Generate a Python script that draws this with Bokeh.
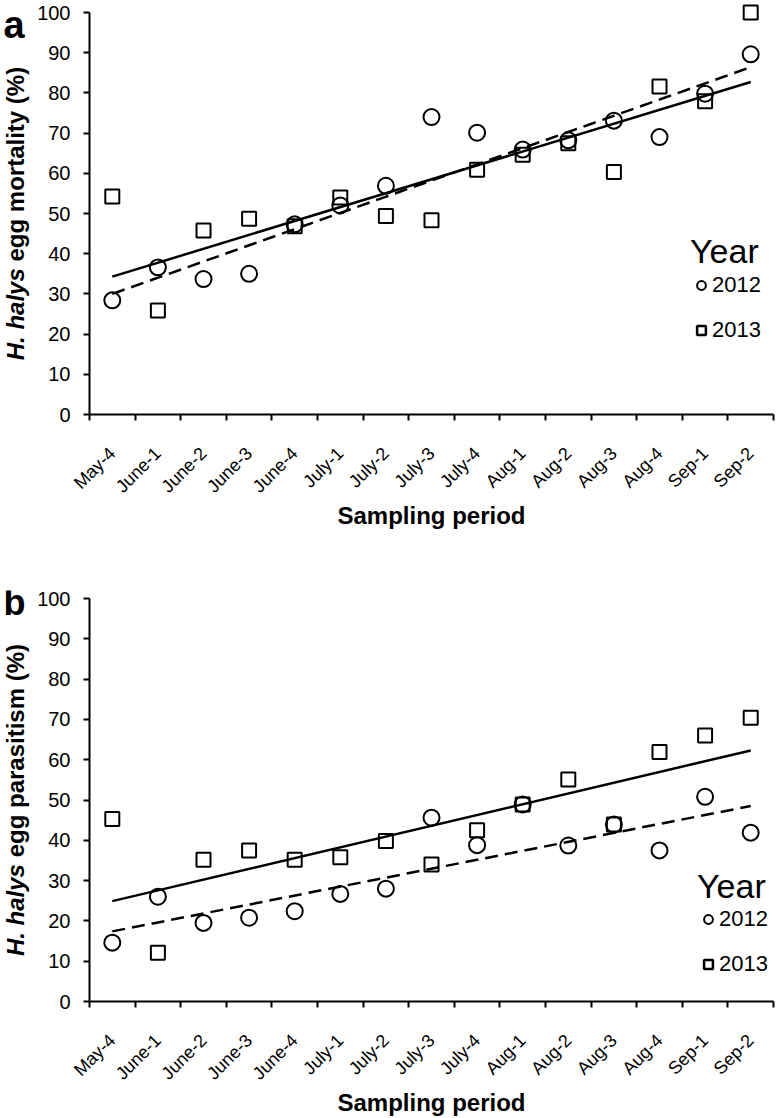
import math
from bokeh.plotting import figure
from bokeh.models import Range1d, FixedTicker, Label, Legend, LegendItem
from bokeh.layouts import column, row
from bokeh.embed import file_html
from bokeh.resources import INLINE

# ---------------- data ----------------
periods = ["May-4", "June-1", "June-2", "June-3", "June-4", "July-1", "July-2",
           "July-3", "July-4", "Aug-1", "Aug-2", "Aug-3", "Aug-4", "Sep-1", "Sep-2"]
y_ticks = [0, 10, 20, 30, 40, 50, 60, 70, 80, 90, 100]
years = ["2012", "2013"]

mortality_2012 = [28.4, 36.6, 33.7, 35.0, 47.3, 52.0, 56.9, 74.0, 70.1, 65.9, 68.2, 73.1, 69.0, 79.8, 89.6]
mortality_2013 = [54.2, 25.9, 45.8, 48.7, 46.8, 54.0, 49.4, 48.3, 60.9, 64.6, 67.5, 60.3, 81.6, 77.9, 100.0]
parasitism_2012 = [14.6, 26.0, 19.5, 20.8, 22.4, 26.7, 28.0, 45.6, 38.8, 48.9, 38.7, 43.9, 37.5, 50.8, 41.9]
parasitism_2013 = [45.3, 12.1, 35.2, 37.5, 35.2, 35.8, 39.8, 34.0, 42.5, 48.9, 55.1, 43.9, 61.9, 66.0, 70.4]

# fitted trend values at first and last sampling period
trend_mortality_2012 = [30.0, 86.4]
trend_mortality_2013 = [34.3, 82.7]
trend_parasitism_2012 = [17.4, 48.5]
trend_parasitism_2013 = [24.9, 62.3]

FONT = "Liberation Sans"
LAB_W = 34          # width of the strip holding panel letter + y title
MAIN_W = 777 - LAB_W
Y_MAX = 100


def label_strip(height, btop, bbottom, y_top, px, letter, letter_size,
                letter_y, ylab_rest, total_px):
    """Left strip; its frame aligns with the neighbouring plot frame."""
    s = figure(width=LAB_W, height=height, x_range=Range1d(0, LAB_W),
               y_range=Range1d(0, y_top), output_backend="svg",
               toolbar_location=None, x_axis_type=None, y_axis_type=None,
               min_border_left=0, min_border_right=0,
               min_border_top=btop, min_border_bottom=bbottom)
    s.grid.visible = False
    s.outline_line_color = None
    s.background_fill_color = "white"
    s.border_fill_color = "white"
    s.add_layout(Label(x=3, y=letter_y, text=letter, text_font=FONT,
                       text_font_size=letter_size, text_font_style="bold",
                       text_align="left", text_baseline="alphabetic",
                       text_color="black"))
    # y title: italic genus name + bold remainder, centred on y = 50
    split_px = -total_px / 2 + 92.0
    s.add_layout(Label(x=15, y=Y_MAX / 2 + split_px * px, angle=math.pi / 2,
                       text="H. halys", text_font=FONT, text_font_size="24px",
                       text_font_style="bold italic", text_align="right",
                       text_baseline="middle", text_color="black"))
    s.add_layout(Label(x=15, y=Y_MAX / 2 + (split_px + 6.7) * px,
                       angle=math.pi / 2, text=ylab_rest, text_font=FONT,
                       text_font_size="24px", text_font_style="bold",
                       text_align="left", text_baseline="middle",
                       text_color="black"))
    return s


def panel(v12, v13, t12, t13, height, btop, bbottom, y_top, leg_loc,
          title_standoff):
    n = len(periods)
    xs = list(range(n))
    p = figure(width=MAIN_W, height=height,
               x_range=Range1d(-0.5, n - 0.5), y_range=Range1d(0, y_top),
               output_backend="svg", toolbar_location=None,
               min_border_left=89 - LAB_W, min_border_right=4,
               min_border_top=btop, min_border_bottom=bbottom)
    p.grid.visible = False
    p.outline_line_color = None
    p.background_fill_color = "white"
    p.border_fill_color = "white"

    xa = p.xaxis[0]
    xa.ticker = FixedTicker(ticks=xs, minor_ticks=[i - 0.5 for i in range(n + 1)])
    xa.major_label_overrides = {i: periods[i] for i in xs}
    xa.major_label_orientation = math.pi / 4
    xa.major_tick_in = 0
    xa.major_tick_out = 0
    xa.minor_tick_in = 0
    xa.minor_tick_out = 6
    xa.minor_tick_line_width = 2
    xa.minor_tick_line_color = "black"
    xa.axis_line_width = 2
    xa.axis_line_color = "black"
    xa.major_label_text_font = FONT
    xa.major_label_text_font_size = "18px"
    xa.major_label_text_color = "black"
    xa.major_label_standoff = 30
    xa.axis_label = "Sampling period"
    xa.axis_label_text_font = FONT
    xa.axis_label_text_font_size = "24px"
    xa.axis_label_text_font_style = "bold"
    xa.axis_label_text_color = "black"
    xa.axis_label_standoff = -5

    ya = p.yaxis[0]
    ya.ticker = FixedTicker(ticks=y_ticks)
    ya.bounds = (0, Y_MAX)
    ya.major_tick_in = 0
    ya.major_tick_out = 6
    ya.major_tick_line_width = 2
    ya.major_tick_line_color = "black"
    ya.minor_tick_in = 0
    ya.minor_tick_out = 0
    ya.axis_line_width = 2
    ya.axis_line_color = "black"
    ya.major_label_text_font = FONT
    ya.major_label_text_font_size = "20px"
    ya.major_label_text_color = "black"
    ya.major_label_standoff = 13

    # data points
    p.scatter(xs, v12, marker="circle", size=16, line_color="black",
              line_width=2, fill_color=None)
    p.scatter(xs, v13, marker="square", size=14, line_color="black",
              line_width=2, fill_color=None)
    # trend lines
    ends = [xs[0], xs[-1]]
    p.line(ends, t12, line_color="black", line_width=2.5, line_dash="13 7")
    p.line(ends, t13, line_color="black", line_width=2.5)

    # legend (key markers only, no visible data)
    g12 = p.scatter([math.nan], [math.nan], marker="circle", size=9,
                    line_color="black", line_width=2, fill_color=None)
    g13 = p.scatter([math.nan], [math.nan], marker="square", size=9,
                    line_color="black", line_width=2.5, fill_color=None)
    leg = Legend(items=[LegendItem(label=years[0], renderers=[g12]),
                        LegendItem(label=years[1], renderers=[g13])],
                 title="Year", location=leg_loc,
                 border_line_color=None, background_fill_alpha=0,
                 padding=0, margin=0, spacing=19,
                 title_text_font=FONT, title_text_font_size="34px",
                 title_text_font_style="normal", title_text_color="black",
                 title_standoff=title_standoff,
                 label_text_font=FONT, label_text_font_size="22px",
                 label_text_color="black",
                 glyph_width=22, glyph_height=24, label_height=24,
                 label_standoff=0)
    p.add_layout(leg)
    return p


# ---- top panel geometry: frame 3..414 px, value 100 at 12 px ----
TOP_H, TOP_BT, TOP_BB = 560, 3, 146
top_frame = TOP_H - TOP_BT - TOP_BB
top_px = Y_MAX / (top_frame - 9)            # data units per pixel
top_ytop = top_frame * top_px

# ---- bottom panel geometry: frame 590..1001 px, value 100 at 598 px ----
BOT_H, BOT_BT, BOT_BB = 1118 - TOP_H, 30, 117
bot_frame = BOT_H - BOT_BT - BOT_BB
bot_px = Y_MAX / (bot_frame - 8)
bot_ytop = bot_frame * bot_px

sa = label_strip(TOP_H, TOP_BT, TOP_BB, top_ytop, top_px, "a", "38px",
                 Y_MAX - 12 * top_px, "egg mortality (%)", 293.4)
pa = panel(mortality_2012, mortality_2013, trend_mortality_2012,
           trend_mortality_2013, TOP_H, TOP_BT, TOP_BB, top_ytop,
           leg_loc=(601, 71), title_standoff=1)

sb = label_strip(BOT_H, BOT_BT, BOT_BB, bot_ytop, bot_px, "b", "36px",
                 Y_MAX - 4 * bot_px, "egg parasitism (%)", 312.1)
pb = panel(parasitism_2012, parasitism_2013, trend_parasitism_2012,
           trend_parasitism_2013, BOT_H, BOT_BT, BOT_BB, bot_ytop,
           leg_loc=(608, 24), title_standoff=0)

layout = column(row(sa, pa, spacing=0), row(sb, pb, spacing=0), spacing=0)
open("out.html", "w").write(file_html(layout, INLINE))
